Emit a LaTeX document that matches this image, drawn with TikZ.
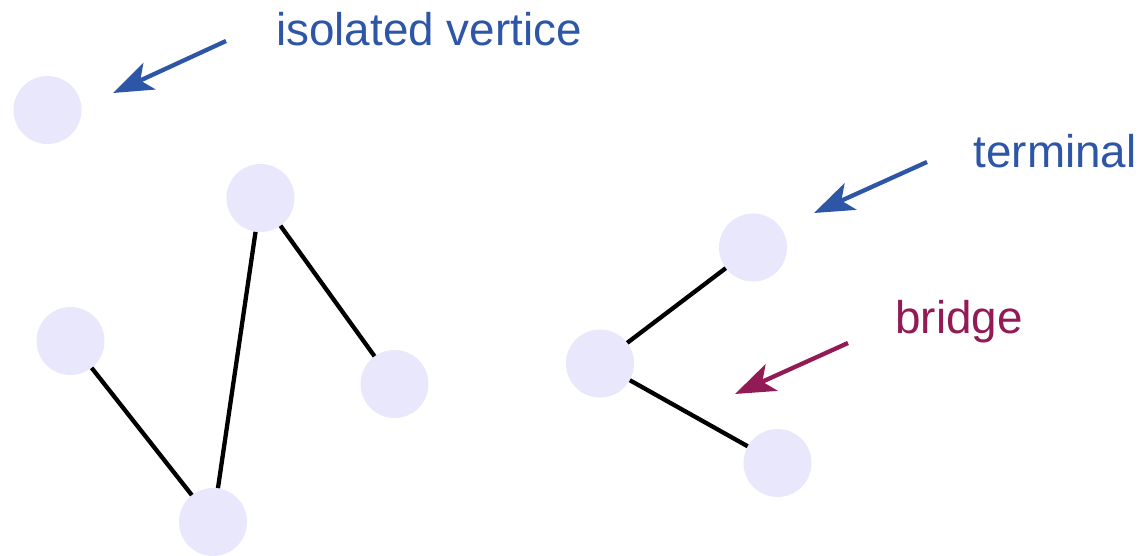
\documentclass[tikz,border=0pt]{standalone}
\usepackage{fontspec}
\setmainfont{Liberation Sans}
\usetikzlibrary{arrows.meta}
\definecolor{vfill}{HTML}{E8E7FC}
\definecolor{lblue}{HTML}{2E56A6}
\definecolor{lmaroon}{HTML}{921A55}
\tikzset{
  vert/.style={circle, fill=vfill, minimum size=68pt, inner sep=0pt},
  edge/.style={line width=4.3pt, black},
  pointer/.style={line width=4.3pt, -{Stealth[length=40pt,width=29pt,inset=10pt]}},
  lbl/.style={font=\fontsize{45.8}{50}\selectfont, anchor=base, inner sep=0pt}
}
\begin{document}
\begin{tikzpicture}[x=1pt,y=-1pt]
\useasboundingbox (0,0) rectangle (1146,556);
\node[vert] (iso) at (47.5,110) {};
\node[vert] (top) at (260.5,198) {};
\node[vert] (lft) at (70.5,341) {};
\node[vert] (rgt) at (394.5,384) {};
\node[vert] (bot) at (213,522) {};
\node[vert] (mid) at (600,363.5) {};
\node[vert] (ter) at (753,247.5) {};
\node[vert] (lr) at (777.5,463) {};
\draw[edge] (lft) -- (bot);
\draw[edge] (bot) -- (top);
\draw[edge] (top) -- (rgt);
\draw[edge] (mid) -- (ter);
\draw[edge] (mid) -- (lr);
\node[lbl, text=lblue] (tiso) at (429,46) {isolated vertice};
\node[lbl, text=lblue] (tter) at (1055,168) {terminal};
\node[lbl, text=lmaroon] (tbr) at (959,333) {bridge};
\coordinate (a1s) at (226,41);
\coordinate (a1e) at (113,93);
\coordinate (a2s) at (927,162);
\coordinate (a2e) at (814,213);
\coordinate (a3s) at (848,343);
\coordinate (a3e) at (735,394);
\draw[pointer, lblue] (a1s) -- (a1e);
\draw[pointer, lblue] (a2s) -- (a2e);
\draw[pointer, lmaroon] (a3s) -- (a3e);
\end{tikzpicture}
\end{document}
